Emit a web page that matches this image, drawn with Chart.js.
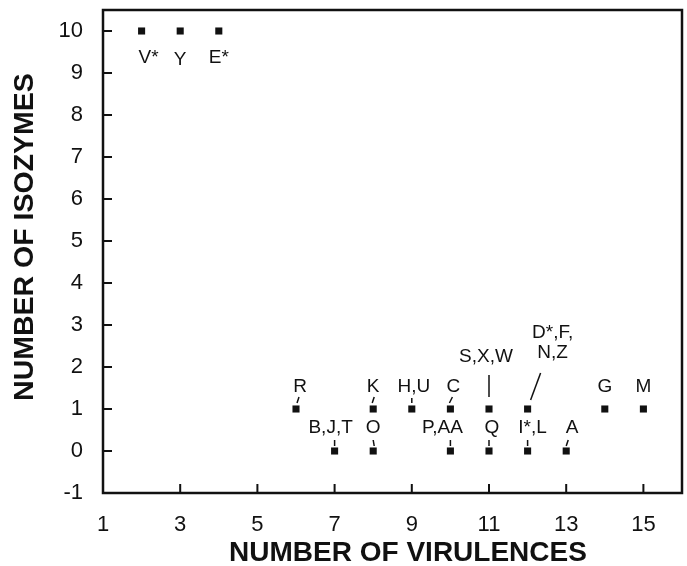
<!DOCTYPE html>
<html>
<head>
<meta charset="utf-8">
<script src="https://cdn.jsdelivr.net/npm/chart.js@4.4.1/dist/chart.umd.min.js"></script>
<style>
html,body{margin:0;padding:0;background:#fff;}
#wrap{width:687px;height:566px;}
</style>
</head>
<body>
<div id="wrap"><canvas id="c" width="687" height="566"></canvas></div>
<script>
// ---- data ----
const virulences = [2, 3, 4, 6, 7, 8, 8, 9, 10, 10, 11, 11, 12, 12, 13, 14, 15];
const isozymes   = [10, 10, 10, 1, 0, 1, 0, 1, 1, 0, 1, 0, 1, 0, 0, 1, 1];
const isolateLabels = ['V*', 'Y', 'E*', 'R', 'B,J,T', 'K', 'O', 'H,U', 'C', 'P,AA', 'S,X,W', 'Q', 'D*,F,\nN,Z', 'I*,L', 'A', 'G', 'M'];
const xTickValues = [1, 3, 5, 7, 9, 11, 13, 15];
const yTickValues = [-1, 0, 1, 2, 3, 4, 5, 6, 7, 8, 9, 10];
const xTitle = 'NUMBER OF VIRULENCES';
const yTitle = 'NUMBER OF ISOZYMES';

// ---- label styling (pixel offsets from each point; leader line segment) ----
const labelStyle = [
  {dx: 7, dy: 27},
  {dx: 0, dy: 29},
  {dx: 0, dy: 27},
  {dx: 4, dy: -22, lead: [1, -6, 3, -12]},
  {dx: -4, dy: -23, lead: [0, -5, 0, -11]},
  {dx: 0, dy: -22, lead: [-1, -6, 1, -12]},
  {dx: 0, dy: -23, lead: [1, -5, 0, -11]},
  {dx: 2, dy: -22, lead: [0, -6, 0, -11]},
  {dx: 3, dy: -22, lead: [-1, -6, 2, -12]},
  {dx: -8, dy: -23, lead: [0, -5, 0, -11]},
  {dx: -3, dy: -52, lead: [0, -12, 0, -34]},
  {dx: 3, dy: -23, lead: [0, -5, 0, -11]},
  {dx: 25, dy: -76, lead: [3, -9, 13, -36]},
  {dx: 5, dy: -23, lead: [0, -5, 0, -11]},
  {dx: 6, dy: -23, lead: [0, -5, 2, -11]},
  {dx: 0, dy: -22},
  {dx: 0, dy: -22}
];
const titleStyle = {xCenter: 408, xBaselineMid: 553, yCenterX: 25, yCenterY: 237};

const FONT = '"Liberation Sans", Arial, Helvetica, sans-serif';

const framePlugin = {
  id: 'frame',
  afterDraw(chart) {
    const ctx = chart.ctx, a = chart.chartArea;
    const xs = chart.scales.x, ys = chart.scales.y;
    ctx.save();
    ctx.strokeStyle = '#111';
    ctx.lineWidth = 2.5;
    ctx.strokeRect(a.left, a.top, a.right - a.left, a.bottom - a.top);
    ctx.lineWidth = 2;
    ctx.beginPath();
    xs.ticks.forEach(t => {
      if (t.value === xs.min) return;
      const px = xs.getPixelForValue(t.value);
      ctx.moveTo(px, a.bottom);
      ctx.lineTo(px, a.bottom - 9);
    });
    ys.ticks.forEach(t => {
      if (t.value === ys.min) return;
      const py = ys.getPixelForValue(t.value);
      ctx.moveTo(a.left, py);
      ctx.lineTo(a.left + 9, py);
    });
    ctx.stroke();
    // axis titles
    ctx.fillStyle = '#111';
    ctx.font = 'bold 28px ' + FONT;
    ctx.textAlign = 'center';
    ctx.textBaseline = 'middle';
    ctx.fillText(xTitle, titleStyle.xCenter, titleStyle.xBaselineMid);
    ctx.translate(titleStyle.yCenterX, titleStyle.yCenterY);
    ctx.rotate(-Math.PI / 2);
    ctx.font = 'bold 28.5px ' + FONT;
    ctx.fillText(yTitle, 0, 0);
    ctx.restore();
  }
};

const labelPlugin = {
  id: 'pointLabels',
  afterDatasetsDraw(chart) {
    const ctx = chart.ctx;
    const meta = chart.getDatasetMeta(0);
    ctx.save();
    ctx.fillStyle = '#111';
    ctx.strokeStyle = '#111';
    ctx.lineWidth = 1.5;
    ctx.font = '19px ' + FONT;
    ctx.textAlign = 'center';
    ctx.textBaseline = 'middle';
    meta.data.forEach((pt, i) => {
      const s = labelStyle[i];
      const lines = isolateLabels[i].split('\n');
      lines.forEach((ln, j) => {
        ctx.fillText(ln, pt.x + s.dx, pt.y + s.dy + j * 20);
      });
      if (s.lead) {
        ctx.beginPath();
        ctx.moveTo(pt.x + s.lead[0], pt.y + s.lead[1]);
        ctx.lineTo(pt.x + s.lead[2], pt.y + s.lead[3]);
        ctx.stroke();
      }
    });
    ctx.restore();
  }
};

new Chart(document.getElementById('c'), {
  type: 'scatter',
  data: {
    datasets: [{
      data: virulences.map((v, i) => ({x: v, y: isozymes[i]})),
      pointStyle: 'rect',
      pointRadius: 5,
      pointHoverRadius: 5,
      backgroundColor: '#111',
      borderColor: '#111',
      borderWidth: 0
    }]
  },
  options: {
    responsive: false,
    animation: false,
    events: [],
    layout: {padding: {top: 10, right: 5, left: 0, bottom: 0}},
    plugins: {legend: {display: false}, tooltip: {enabled: false}},
    scales: {
      x: {
        type: 'linear',
        min: 1, max: 16,
        afterBuildTicks(s) { s.ticks = xTickValues.map(v => ({value: v})); },
        afterFit(s) { s.height = 73; s.paddingLeft = 0; s.paddingRight = 0; },
        grid: {display: false},
        border: {display: false},
        ticks: {
          color: '#111',
          font: {family: FONT, size: 22},
          padding: 11,
          maxRotation: 0,
          autoSkip: false
        },
        title: {display: false}
      },
      y: {
        type: 'linear',
        min: -1, max: 10.5,
        afterBuildTicks(s) { s.ticks = yTickValues.map(v => ({value: v})); },
        afterFit(s) { s.width = 103; s.paddingTop = 0; s.paddingBottom = 0; },
        grid: {display: false},
        border: {display: false},
        ticks: {
          color: '#111',
          font: {family: FONT, size: 22},
          padding: 12,
          autoSkip: false
        },
        title: {display: false}
      }
    }
  },
  plugins: [framePlugin, labelPlugin]
});
</script>
</body>
</html>
